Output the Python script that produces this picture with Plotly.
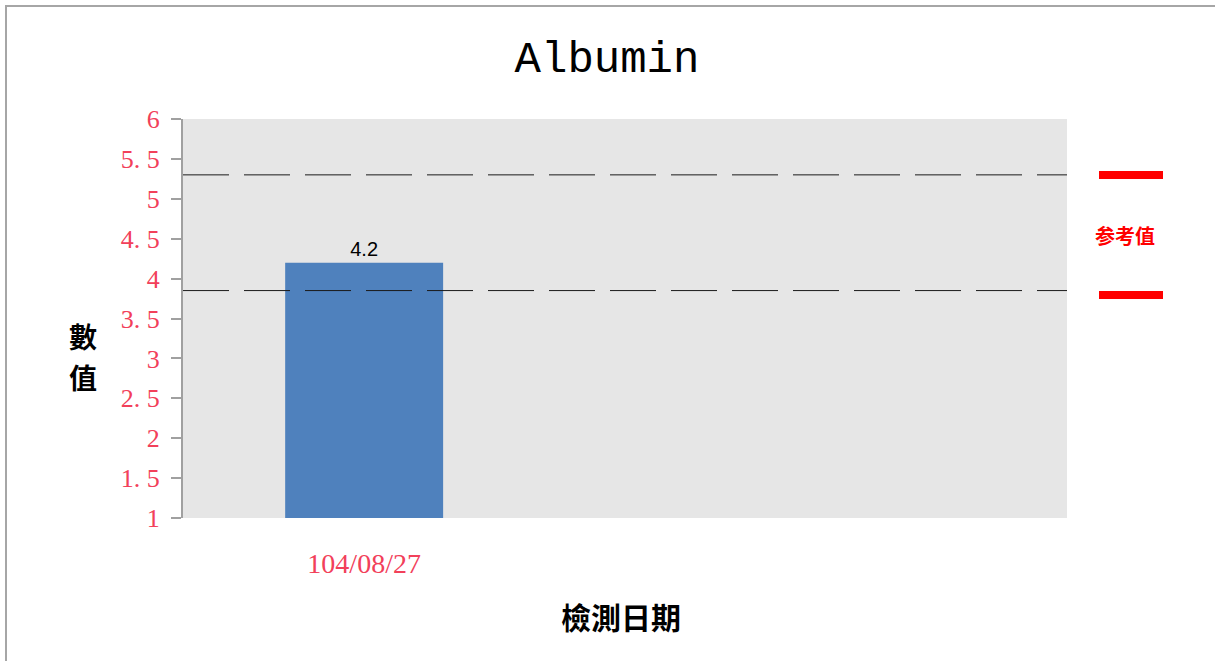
import plotly.graph_objects as go

# ---- data ----
dates = ["104/08/27"]
values = [4.2]
ref_high = 5.3
ref_low = 3.85
y_tickvals = [1, 1.5, 2, 2.5, 3, 3.5, 4, 4.5, 5, 5.5, 6]
y_ticktext = ["1", "1. 5", "2", "2. 5", "3", "3. 5", "4", "4. 5", "5", "5. 5", "6"]
title_text = "Albumin"
x_title = "檢測日期"
y_title_chars = ["數", "值"]
legend_text = "参考值"

W, H = 1215, 661
L, R, T, B = 183, 148, 119, 143
PW, PH = W - L - R, H - T - B

def px_x(p):
    return (p - L) / PW

def px_y(p):
    return (H - B - p) / PH

tick_color = "#F2405A"
axis_gray = "#A0A0A0"

fig = go.Figure()
fig.add_trace(go.Bar(
    x=dates, y=values, width=0.436,
    marker=dict(color="#4F81BD", line=dict(width=0)),
    text=[str(v) for v in values], textposition="outside",
    textfont=dict(family="Liberation Sans, Arial", size=20, color="#000000"),
    cliponaxis=False,
))

shapes = []
for v in (ref_high, ref_low):
    shapes.append(dict(type="line", xref="paper", x0=0, x1=1, yref="y", y0=v, y1=v,
                       line=dict(color="#1A1A1A", width=1, dash="46px,15px"), layer="above"))
# legend bars
for py in (175, 295):
    shapes.append(dict(type="line", xref="paper", yref="paper",
                       x0=px_x(1099), x1=px_x(1163), y0=px_y(py), y1=px_y(py),
                       line=dict(color="#FF0000", width=8)))
# page border
shapes.append(dict(type="rect", xref="paper", yref="paper",
                   x0=px_x(6), x1=px_x(1222), y0=px_y(672), y1=px_y(6),
                   line=dict(color="#A6A6A6", width=2), fillcolor="rgba(0,0,0,0)"))

annotations = [
    dict(text=legend_text, xref="paper", yref="paper", x=px_x(1125), y=px_y(235),
         showarrow=False, xanchor="center", yanchor="middle",
         font=dict(family="Noto Sans CJK SC", size=20, color="#FF0000", weight="bold")),
    dict(text=x_title, xref="paper", yref="paper", x=px_x(621), y=px_y(616),
         showarrow=False, xanchor="center", yanchor="middle",
         font=dict(family="Noto Sans CJK TC", size=30, color="#000000", weight="bold")),
]
for i, ch in enumerate(y_title_chars):
    annotations.append(dict(text=ch, xref="paper", yref="paper", x=px_x(83), y=px_y(336 + 41 * i),
                            showarrow=False, xanchor="center", yanchor="middle",
                            font=dict(family="Noto Sans CJK TC", size=28, color="#000000", weight="bold")))

fig.update_layout(
    width=W, height=H,
    margin=dict(l=L, r=R, t=T, b=B, pad=0),
    paper_bgcolor="#FFFFFF", plot_bgcolor="#E6E6E6",
    showlegend=False,
    title=dict(text=title_text, xref="container", yref="container",
               x=607 / W, y=1 - 57 / H, xanchor="center", yanchor="middle",
               font=dict(family="Liberation Mono", size=44, color="#000000")),
    shapes=shapes, annotations=annotations,
    xaxis=dict(type="category", range=[-0.5, 1.94], showgrid=False, zeroline=False,
               showline=False, ticks="outside", ticklen=20, tickcolor="rgba(0,0,0,0)",
               tickfont=dict(family="Liberation Serif", size=28, color=tick_color)),
    yaxis=dict(range=[1, 6], tickvals=y_tickvals, ticktext=y_ticktext,
               showgrid=False, zeroline=False, showline=True, linecolor=axis_gray, linewidth=2,
               ticks="outside", ticklen=10, tickwidth=2, tickcolor=axis_gray,
               ticklabelstandoff=6,
               tickfont=dict(family="Liberation Serif", size=26, color=tick_color)),
)

fig.write_html("out.html")
